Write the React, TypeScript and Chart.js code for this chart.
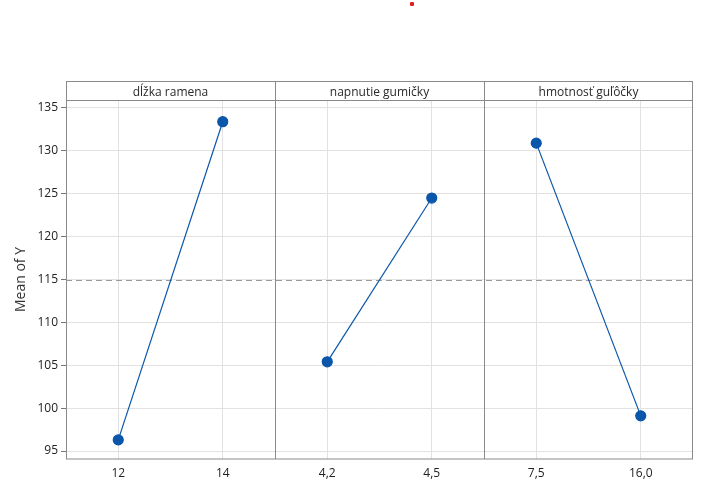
import React, { useEffect, useRef } from "react";
import { Chart, registerables } from "chart.js";

Chart.register(...registerables);

const categories = ["12", "14", "4,2", "4,5", "7,5", "16,0"];
const panelTitles = ["dĺžka ramena", "napnutie gumičky", "hmotnosť guľôčky"];
const armLength = [96.3, 133.4, null, null, null, null];
const bandTension = [null, null, 105.4, 124.5, null, null];
const ballMass = [null, null, null, null, 130.9, 99.1];
const meanValue = 115;
const yTicks = [95, 100, 105, 110, 115, 120, 125, 130, 135];

const FONT = "'Open Sans', 'Noto Sans', sans-serif";
const BLUE = "#0a56aa";

const panelPlugin = {
  id: "panels",
  beforeDatasetsDraw(chart: any) {
    const { ctx, chartArea, scales } = chart;
    const y = scales.y.getPixelForValue(meanValue);
    ctx.save();
    ctx.strokeStyle = "#9a9a9a";
    ctx.lineWidth = 1;
    ctx.setLineDash([6, 4]);
    ctx.beginPath();
    ctx.moveTo(chartArea.left, Math.round(y) + 0.5);
    ctx.lineTo(chartArea.right, Math.round(y) + 0.5);
    ctx.stroke();
    ctx.restore();
  },
  afterDraw(chart: any) {
    const { ctx, chartArea } = chart;
    const stripTop = chartArea.top - 19;
    const step = (chartArea.right - chartArea.left) / categories.length;
    const bounds = [
      chartArea.left,
      chartArea.left + 2 * step,
      chartArea.left + 4 * step,
      chartArea.right,
    ];
    ctx.save();
    ctx.strokeStyle = "#8a8a8a";
    ctx.lineWidth = 1;
    ctx.strokeRect(
      Math.round(chartArea.left) + 0.5,
      Math.round(stripTop) + 0.5,
      Math.round(chartArea.right - chartArea.left) - 1,
      Math.round(chartArea.bottom - stripTop) - 0.5
    );
    ctx.beginPath();
    ctx.moveTo(chartArea.left, Math.round(chartArea.top) + 0.5);
    ctx.lineTo(chartArea.right, Math.round(chartArea.top) + 0.5);
    ctx.stroke();
    for (let i = 1; i < 3; i++) {
      ctx.beginPath();
      ctx.moveTo(Math.round(bounds[i]) + 0.5, stripTop);
      ctx.lineTo(Math.round(bounds[i]) + 0.5, chartArea.bottom);
      ctx.stroke();
    }
    ctx.fillStyle = "#2a2a2a";
    ctx.font = `12px ${FONT}`;
    ctx.textAlign = "center";
    ctx.textBaseline = "middle";
    for (let i = 0; i < 3; i++) {
      ctx.fillText(panelTitles[i], (bounds[i] + bounds[i + 1]) / 2, chartArea.top - 7);
    }
    ctx.restore();
  },
};

export default function App() {
  const ref = useRef<HTMLCanvasElement>(null);
  useEffect(() => {
    if (!ref.current) return;
    const mk = (data: (number | null)[]) => ({
      data,
      borderColor: BLUE,
      backgroundColor: BLUE,
      borderWidth: 1.2,
      pointRadius: 5,
      pointBackgroundColor: BLUE,
      pointBorderColor: BLUE,
      spanGaps: false,
    });
    const chart = new Chart(ref.current, {
      type: "line",
      data: {
        labels: categories,
        datasets: [mk(armLength), mk(bandTension), mk(ballMass)],
      },
      plugins: [panelPlugin],
      options: {
        responsive: false,
        animation: false,
        layout: { padding: { left: 0, right: 9, top: 100, bottom: 0 } },
        plugins: { legend: { display: false }, tooltip: { enabled: false } },
        scales: {
          x: {
            type: "category",
            offset: true,
            border: { display: false },
            grid: {
              offset: false,
              color: "#e2e2e2",
              drawTicks: false,
            },
            ticks: {
              color: "#222",
              font: { family: FONT, size: 12 },
              padding: 7,
              maxRotation: 0,
            },
            afterFit(scale: any) {
              scale.height = 28;
            },
          },
          y: {
            type: "linear",
            min: 94.07,
            max: 135.93,
            border: { display: false },
            grid: {
              color: "#e2e2e2",
              tickColor: "#777",
              tickLength: 5,
            },
            ticks: {
              stepSize: 5,
              includeBounds: false,
              color: "#222",
              font: { family: FONT, size: 12 },
              padding: 3,
              callback: (v: any) => (yTicks.includes(Number(v)) ? String(v) : ""),
            },
            title: {
              display: true,
              text: "Mean of Y",
              color: "#333",
              font: { family: FONT, size: 14 },
              padding: { top: 13, bottom: 0 },
            },
            afterFit(scale: any) {
              scale.width = 66;
            },
          },
        },
      },
    } as any);
    return () => chart.destroy();
  }, []);
  return (
    <div style={{ position: "fixed", left: 0, top: 0, width: 702, height: 487, background: "#fff" }}>
      <canvas ref={ref} width={702} height={487} style={{ display: "block" }} />
      <div
        style={{
          position: "absolute",
          left: 410,
          top: 2,
          width: 4,
          height: 4,
          background: "#e02020",
          borderRadius: 1,
        }}
      />
    </div>
  );
}
